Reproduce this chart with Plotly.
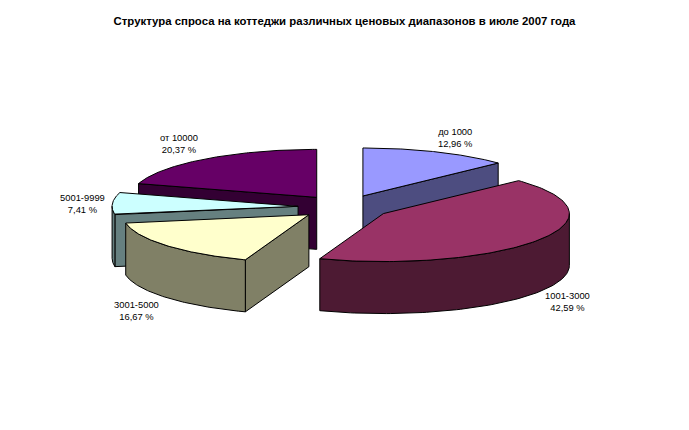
import numpy as np
import plotly.graph_objects as go

categories = ["до 1000", "1001-3000", "3001-5000", "5001-9999", "от 10000"]
shares = [12.96, 42.59, 16.67, 7.41, 20.37]
share_labels = ["12,96 %", "42,59 %", "16,67 %", "7,41 %", "20,37 %"]
title_text = "Структура спроса на коттеджи различных ценовых диапазонов в июле 2007 года"

top_colors = ["#9999FF", "#993366", "#FFFFCC", "#CCFFFF", "#660066"]
side_colors = ["#4D4D80", "#4D1A33", "#808066", "#668080", "#330033"]

CX, CY, RX, RY, DEPTH, EXPLODE = 344.5, 207.0, 186.0, 48.0, 52.0, 0.25
DRAW_ORDER = [4, 0, 3, 2, 1]
LABEL_POS = [(455, 137), (567, 301), (136, 310), (82, 203), (179, 143)]

total = sum(shares)
edges = np.concatenate([[0], np.cumsum(shares)]) / total * 2 * np.pi


def project(theta, ax, ay):
    return ax + RX * np.sin(theta), ay - RY * np.cos(theta)


def poly(fig, xs, ys, fill):
    fig.add_trace(go.Scatter(
        x=list(xs) + [xs[0]], y=list(ys) + [ys[0]], mode="lines", fill="toself",
        fillcolor=fill, line=dict(color="#000000", width=1), hoverinfo="skip",
        showlegend=False))


fig = go.Figure()
for i in DRAW_ORDER:
    a0, a1 = edges[i], edges[i + 1]
    mid = (a0 + a1) / 2
    ax = CX + EXPLODE * RX * np.sin(mid)
    ay = CY - EXPLODE * RY * np.cos(mid)
    # cut faces, only those turned towards the viewer
    for a, visible in ((a0, np.sin(a0) < -1e-6), (a1, np.sin(a1) > 1e-6)):
        if visible:
            x, y = project(a, ax, ay)
            poly(fig, [ax, x, x, ax], [ay, y, y + DEPTH, ay + DEPTH], side_colors[i])
    # outer wall: visible on the front half of the ellipse
    lo, hi = max(a0, np.pi / 2), min(a1, 3 * np.pi / 2)
    if lo < hi:
        t = np.linspace(lo, hi, 80)
        x, y = project(t, ax, ay)
        poly(fig, np.r_[x, x[::-1]], np.r_[y, y[::-1] + DEPTH], side_colors[i])
    # top face
    t = np.linspace(a0, a1, 120)
    x, y = project(t, ax, ay)
    poly(fig, np.r_[ax, x], np.r_[ay, y], top_colors[i])

annotations = [
    dict(x=p[0], y=p[1], text=f"{c}<br>{s}", showarrow=False, xanchor="center", yanchor="middle",
         font=dict(family="Liberation Sans", size=9.4, color="#000000"))
    for c, s, p in zip(categories, share_labels, LABEL_POS)
]

fig.update_layout(
    width=689, height=430, margin=dict(l=0, r=0, t=0, b=0),
    paper_bgcolor="#FFFFFF", plot_bgcolor="#FFFFFF", showlegend=False,
    title=dict(text=f"<b>{title_text}</b>", x=0.5, xanchor="center", y=0.951, yanchor="middle",
               font=dict(family="Liberation Sans", size=11.4, color="#000000")),
    xaxis=dict(range=[0, 689], visible=False, fixedrange=True),
    yaxis=dict(range=[430, 0], visible=False, fixedrange=True),
    annotations=annotations,
)
fig.write_html("out.html", config={"displayModeBar": False},
               post_script="document.body.style.margin='0';")
